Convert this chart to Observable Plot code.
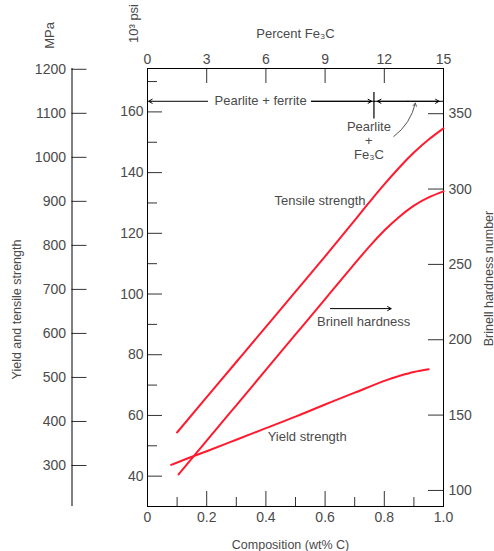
<!DOCTYPE html>
<html><head><meta charset="utf-8">
<script src="https://cdn.jsdelivr.net/npm/d3@7"></script>
<script src="https://cdn.jsdelivr.net/npm/@observablehq/plot@0.6"></script>
<style>body{margin:0;background:#fff} svg{display:block}</style>
</head><body><div id="chart"></div>
<script>
// ---- data ----
const tensileC   = [0.10, 0.20, 0.30, 0.40, 0.50, 0.60, 0.65, 0.70, 0.75, 0.80, 0.85, 0.90, 0.95, 1.00];
const tensileKsi = [54.4, 66.0, 77.6, 89.2, 100.8, 112.4, 118.3, 124.3, 130.3, 136.1, 141.6, 146.6, 150.9, 154.6];
const brinellC   = [0.105, 0.20, 0.30, 0.40, 0.50, 0.60, 0.70, 0.75, 0.80, 0.85, 0.90, 0.95, 1.00];
const brinellHB  = [110.6, 133.0, 156.5, 180.0, 203.5, 227.0, 250.5, 262.0, 272.5, 281.5, 289.0, 294.5, 298.5];
const yieldC     = [0.08, 0.15, 0.20, 0.30, 0.40, 0.50, 0.60, 0.70, 0.80, 0.85, 0.90, 0.95];
const yieldKsi   = [43.7, 46.4, 48.2, 52.0, 55.8, 59.6, 63.6, 67.5, 71.4, 73.0, 74.3, 75.2];

// tick values
const psiTicks   = [40, 60, 80, 100, 120, 140, 160];
const psiMinor   = [50, 70, 90, 110, 130, 150, 170];
const mpaTicks   = [300, 400, 500, 600, 700, 800, 900, 1000, 1100, 1200];
const hbTicks    = [100, 150, 200, 250, 300, 350];
const wtTicks    = [0, 0.2, 0.4, 0.6, 0.8, 1.0];
const wtMinor    = [0.1, 0.3, 0.5, 0.7, 0.9];
const fe3cTicks  = [0, 3, 6, 9, 12, 15];

// unit relations
const MPA_PER_KSI = 6.895;
const FE3C_AT_1WT = 15;              // % Fe3C at 1.0 wt% C
const hbToKsi = hb => 35.29 + (hb - 100) * 0.49648;   // Brinell axis alignment
const ksiToHb = k => 100 + (k - 35.29) / 0.49648;
const eutectoid = 0.765;

// annotations
const phaseY = 163.5;
const labels = [
  {x: 0.429, y: 130.8, t: "Tensile strength"},
  {x: 0.573, y: 90.7,  t: "Brinell hardness"},
  {x: 0.406, y: 53.1,  t: "Yield strength"}
];

const W = 494, H = 551;
const mL = 147, mR = 51, mT = 68, mB = 45;
const fw = W - mL - mR, fh = H - mT - mB;
const red = "#ff1a2e";
const txt = "#4a4a4a";
const font = "'Liberation Sans', Arial, sans-serif";

const tensile = tensileC.map((c, i) => ({c, v: tensileKsi[i]}));
const brinell = brinellC.map((c, i) => ({c, v: hbToKsi(brinellHB[i])}));
const yld = yieldC.map((c, i) => ({c, v: yieldKsi[i]}));

const title = (s, o) => Plot.text([s], {text: d => d, textAnchor: "middle", lineAnchor: "middle", fill: txt, ...o});

const chart = Plot.plot({
  width: W, height: H,
  marginLeft: mL, marginRight: mR, marginTop: mT, marginBottom: mB,
  style: {fontFamily: font, fontSize: "13px", color: txt, background: "#fff"},
  x: {domain: [0, 1]},
  y: {domain: [30, 174.3]},
  marks: [
    // tick marks
    Plot.ruleY(psiTicks, {y: d => d, insetRight: fw - 15, stroke: "#333"}),
    Plot.ruleY(psiMinor, {y: d => d, insetRight: fw - 10, stroke: "#333"}),
    Plot.ruleY(hbTicks.map(hbToKsi), {y: d => d, insetLeft: fw - 15, stroke: "#333"}),
    Plot.ruleY(mpaTicks.map(m => m / MPA_PER_KSI), {y: d => d, insetRight: fw - 15, dx: -75.5, stroke: "#333"}),
    Plot.ruleX([0], {dx: -75.5, stroke: "#000"}),
    Plot.ruleX(wtTicks, {x: d => d, insetTop: fh - 15, stroke: "#333"}),
    Plot.ruleX(wtMinor, {x: d => d, insetTop: fh - 9, stroke: "#333"}),
    Plot.ruleX(fe3cTicks.map(p => p / FE3C_AT_1WT), {x: d => d, insetBottom: fh - 15, stroke: "#333"}),
    Plot.frame({stroke: "#000"}),

    // axis labels
    Plot.axisX({anchor: "bottom", ticks: wtTicks, tickFormat: d => d === 0 ? "0" : d.toFixed(1),
      tickSize: 0, tickPadding: 6, label: null, fontSize: 14, fill: txt}),
    Plot.axisX({anchor: "top", ticks: fe3cTicks.map(p => p / FE3C_AT_1WT),
      tickFormat: d => String(Math.round(d * FE3C_AT_1WT)), tickSize: 0, tickPadding: 5, label: null, fontSize: 14, fill: txt}),
    Plot.axisY({anchor: "left", ticks: psiTicks, tickSize: 0, tickPadding: 4, label: null, fontSize: 14, fill: txt}),
    Plot.axisY({anchor: "left", ticks: mpaTicks.map(m => m / MPA_PER_KSI), tickFormat: d => String(Math.round(d * MPA_PER_KSI)),
      dx: -75.5, tickSize: 0, tickPadding: 6, label: null, fontSize: 14, fill: txt}),
    Plot.axisY({anchor: "right", ticks: hbTicks.map(hbToKsi), tickFormat: d => String(Math.round(ksiToHb(d))),
      tickSize: 0, tickPadding: 5, label: null, fontSize: 14, fill: txt}),

    // curves
    Plot.line(tensile, {x: "c", y: "v", stroke: red, strokeWidth: 2, curve: "natural"}),
    Plot.line(brinell, {x: "c", y: "v", stroke: red, strokeWidth: 2, curve: "natural"}),
    Plot.line(yld, {x: "c", y: "v", stroke: red, strokeWidth: 2, curve: "natural"}),

    // phase region annotations
    Plot.arrow([{a: 0.203, b: 0.004}, {a: 0.554, b: eutectoid - 0.008}, {a: 0.88, b: eutectoid + 0.012}, {a: 0.88, b: 0.985}],
      {x1: "a", x2: "b", y1: phaseY, y2: phaseY, stroke: "#000", strokeWidth: 1, headLength: 6}),
    Plot.ruleY([phaseY], {x1: 0.554, x2: 1.0, stroke: "#000", strokeWidth: 1}),
    Plot.ruleX([eutectoid], {y1: 157.7, y2: 166.4, stroke: "#000", strokeWidth: 1.2}),
    Plot.text(["Pearlite + ferrite"], {x: 0.382, y: phaseY, text: d => d, fill: txt, fontSize: 13}),
    Plot.text(["Pearlite\n+\nFe\u2083C"], {x: 0.748, y: 150.6, text: d => d, fill: txt, fontSize: 13, lineHeight: 1.1}),
    Plot.arrow([{}], {x1: 0.832, y1: 151.9, x2: 0.905, y2: 162.9, bend: -20, stroke: "#555", strokeWidth: 1, headLength: 5}),

    // curve labels
    Plot.text(labels, {x: "x", y: "y", text: "t", textAnchor: "start", fill: txt, fontSize: 13}),
    Plot.arrow([{}], {x1: 0.618, y1: 95.2, x2: 0.823, y2: 95.2, stroke: "#000", strokeWidth: 1, headLength: 6}),

    // axis titles
    title("Percent Fe\u2083C", {frameAnchor: "top-left", dx: 148, dy: -35, fontSize: 13}),
    title("Composition (wt% C)", {frameAnchor: "bottom-left", dx: 143, dy: 38, fontSize: 12.5}),
    title("MPa", {frameAnchor: "top-left", dx: -98, dy: -33, rotate: -90, fontSize: 13}),
    title("10\u00b3 psi", {frameAnchor: "top-left", dx: -14, dy: -45, rotate: -90, fontSize: 13}),
    title("Yield and tensile strength", {frameAnchor: "top-left", dx: -131, dy: 241, rotate: -90, fontSize: 12.5}),
    title("Brinell hardness number", {frameAnchor: "top-right", dx: 45, dy: 210, rotate: -90, fontSize: 12.5})
  ]
});
document.getElementById("chart").append(chart);
</script>
</body></html>
